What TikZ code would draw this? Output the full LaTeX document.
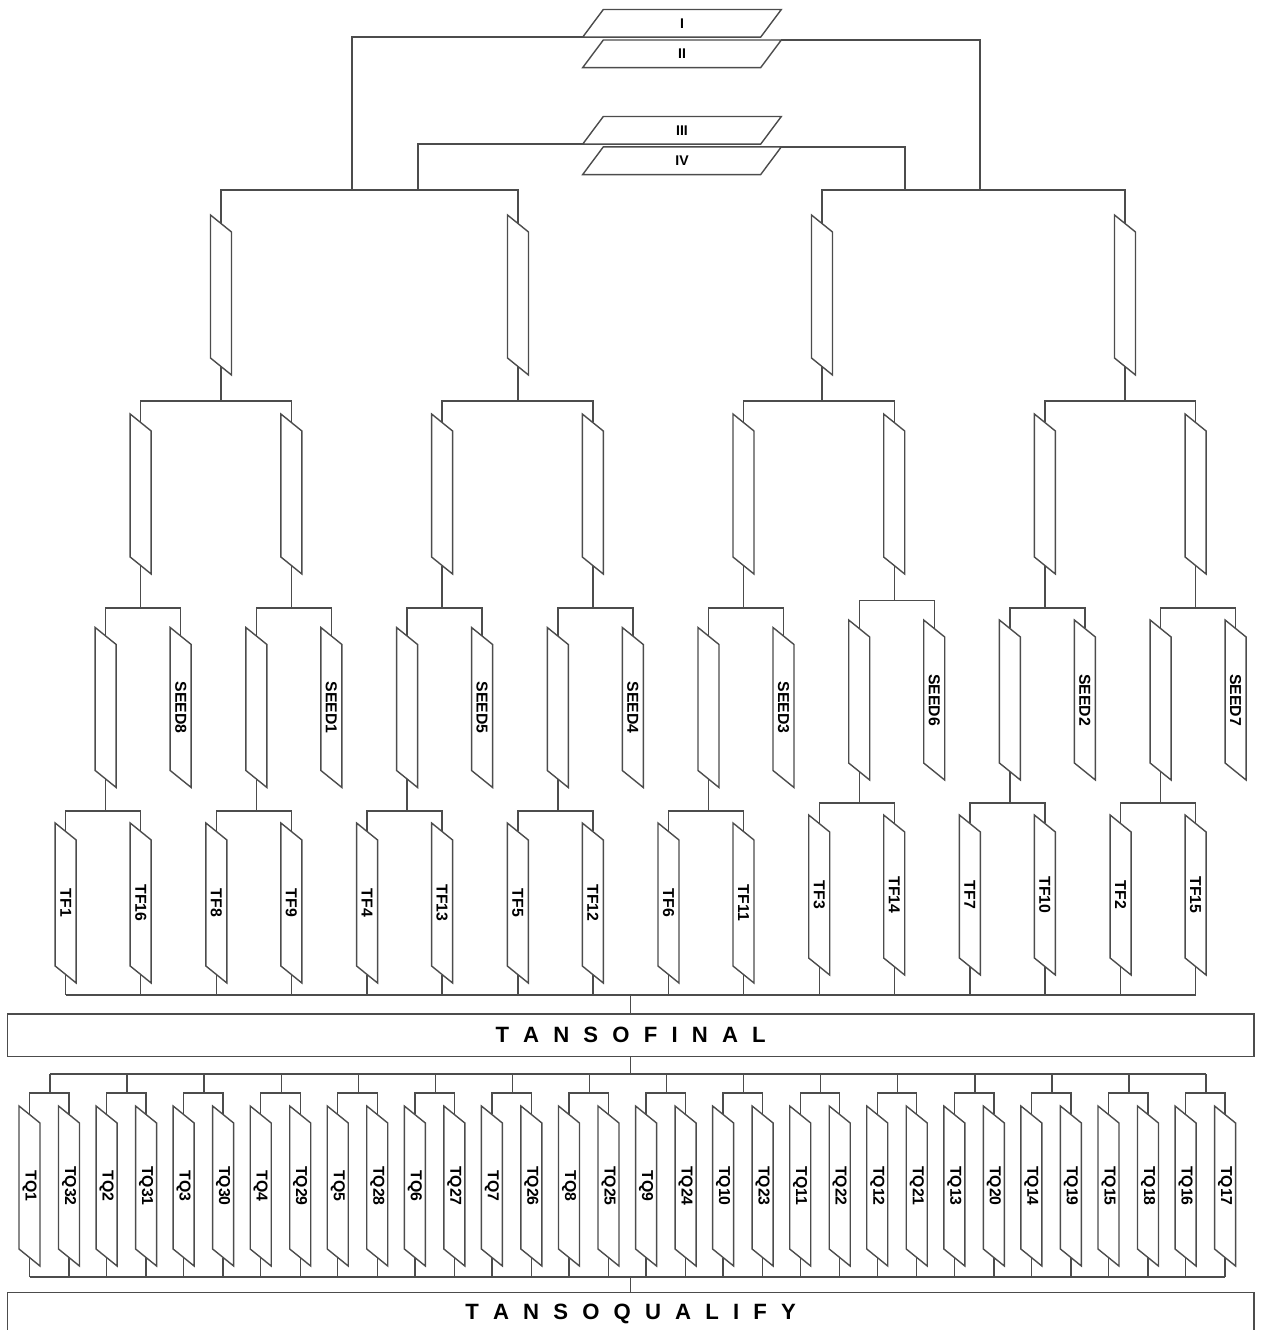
\documentclass[tikz,border=0pt]{standalone}
\usepackage{fontspec}
\setmainfont{Liberation Sans}
\newcommand\tracked{\spaceskip=.64em\relax}

\begin{document}
\begin{tikzpicture}[x=.02cm,y=-.02cm,
  wire/.style={black!70,line width=.8pt},
  slot/.style={rotate=-90,minimum width=2.86cm,minimum height=.42cm,inner sep=0pt,
    font=\fontsize{9}{10}\selectfont\bfseries,
    append after command={\pgfextra{\draw[wire] ([shift={(-10.5,-80)}]\tikzlastnode.center)
      -- ++(0,143) -- ++(21,17) -- ++(0,-143) -- cycle;}}},
  plate/.style={minimum width=3.96cm,minimum height=.54cm,inner sep=0pt,
    font=\fontsize{8}{9}\selectfont\bfseries,
    append after command={\pgfextra{\draw[wire] (\tikzlastnode.south west) -- ++(178,0)
      -- (\tikzlastnode.north east) -- ++(-178,0) -- cycle;}}},
  bar/.style={draw=black!70,line width=.8pt,minimum width=24.94cm,minimum height=.85cm,
    font=\fontsize{12.6}{14}\selectfont\bfseries}]
\useasboundingbox (0,0) rectangle (1265,1330);

% plates at the top
\node[plate] (I) at (682,23.3) {I};
\node[plate] (II) at (682,53.8) {II};
\node[plate] (III) at (682,130.3) {III};
\node[plate] (IV) at (682,160.7) {IV};
\coordinate (hl) at (352,190);
\coordinate (hm) at (418,190);
\coordinate (hn) at (905,190);
\coordinate (hr) at (980,190);
\draw[wire] (I.south west) -| (hl);
\draw[wire] (III.south west) -| (hm);
\draw[wire] (II.north east) -| (hr);
\draw[wire] (IV.north east) -| (hn);

% first two levels
\foreach \i/\x in {1/221,2/518,3/822,4/1125}{\node[slot] (a\i) at (\x,295) {};}
\foreach \i in {1,...,8}{\node[slot] (b\i) at ({140.7+150.7*(\i-1)},494) {};}
\draw[wire] (a1.west) |- (hl) -| (a2.west);
\draw[wire] (a3.west) |- (hr) -| (a4.west);
\foreach \i/\x/\p/\q in {1/221/1/2,2/518/3/4,3/822/5/6,4/1125/7/8}{
  \coordinate (g\i) at (\x,401);
  \draw[wire] (a\i.east) -- (g\i);
  \draw[wire] (b\p.west) |- (g\i) -| (b\q.west);
}

% seed level and TF pairs
\foreach \i/\s/\l/\r/\u/\h/\t in {1/8/1/16/707.5/608/811,2/1/8/9/707.5/608/811,3/5/4/13/707.5/608/811,
  4/4/5/12/707.5/608/811,5/3/6/11/707.5/608/811,6/6/3/14/700/600.7/803,7/2/7/10/700/608/803,8/7/2/15/700/608/803}{
  \pgfmathsetmacro\cx{140.7+150.7*(\i-1)}
  \node[slot] (c\i) at (\cx-35,\u) {};
  \node[slot] (s\i) at (\cx+40,\u) {SEED\s};
  \node[slot] (f\l) at (\cx-75,\t+92) {TF\l};
  \node[slot] (f\r) at (\cx,\t+92) {TF\r};
  \coordinate (h\i) at (\cx,\h);
  \coordinate (k\i) at (\cx-35,\t);
  \draw[wire] (b\i.east) -- (h\i);
  \draw[wire] (c\i.west) |- (h\i) -| (s\i.west);
  \draw[wire] (c\i.east) -- (k\i);
  \draw[wire] (f\l.west) |- (k\i) -| (f\r.west);
}

% TANSO FINAL
\coordinate (bus) at (630.6,995);
\foreach \n in {1,...,16}{\draw[wire] (f\n.east) -- (f\n.east |- bus);}
\draw[wire] (f1.east |- bus) -- (f15.east |- bus);
\node[bar] (fin) at (630.6,1035.3) {\tracked T A N S O F I N A L};
\draw[wire] (bus) -- (fin.north);

% TQ pairs
\coordinate (qtop) at (630.6,1074);
\coordinate (qbus) at (630.6,1277);
\foreach \k in {1,...,16}{
  \pgfmathsetmacro\jx{50+77.07*(\k-1)}
  \pgfmathtruncatemacro\m{33-\k}
  \node[slot] (q\k) at (\jx-20.5,1186) {TQ\k};
  \node[slot] (q\m) at (\jx+19,1186) {TQ\m};
  \coordinate (j\k) at (\jx,1093);
  \draw[wire] (j\k) -- (j\k |- qtop);
  \draw[wire] (q\k.west) |- (j\k) -| (q\m.west);
  \draw[wire] (q\k.east) -- (q\k.east |- qbus);
  \draw[wire] (q\m.east) -- (q\m.east |- qbus);
}
\draw[wire] (j1 |- qtop) -- (j16 |- qtop);
\draw[wire] (q1.east |- qbus) -- (q17.east |- qbus);
\draw[wire] (fin.south) -- (qtop);

% TANSO QUALIFY
\node[bar] (qual) at (630.6,1313.5) {\tracked T A N S O Q U A L I F Y};
\draw[wire] (qbus) -- (qual.north);
\end{tikzpicture}
\end{document}
